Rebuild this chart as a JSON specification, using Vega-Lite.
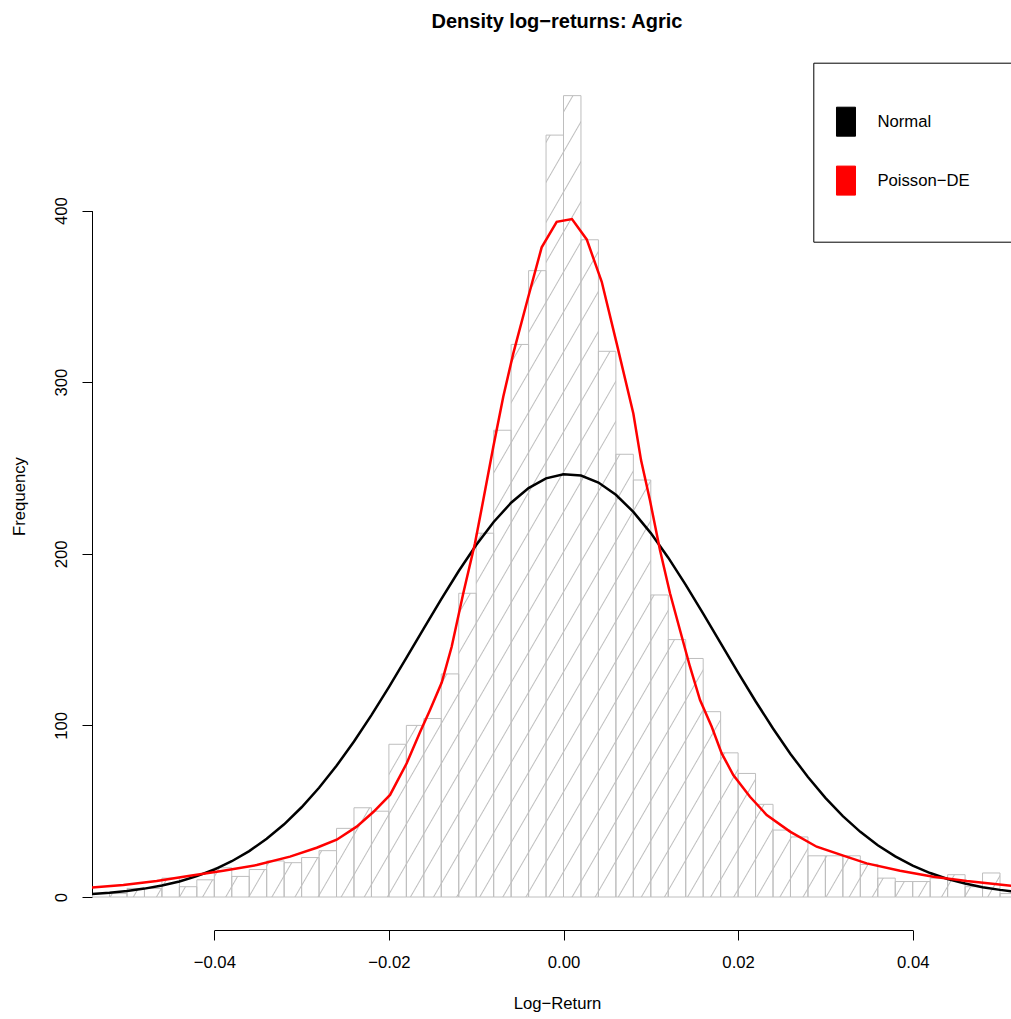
{
  "$schema": "https://vega.github.io/schema/vega-lite/v6.json",
  "width": 919,
  "height": 868,
  "autosize": "none",
  "padding": {"left": 92, "top": 62, "right": 0, "bottom": 89},
  "background": "white",
  "config": {"view": {"stroke": null}, "font": "Liberation Sans"},
  "title": {"text": "Density log−returns: Agric", "fontSize": 20, "fontWeight": "bold", "color": "black", "anchor": "middle", "frame": "group", "baseline": "alphabetic", "offset": 14, "dx": 5.5},
  "datasets": {
    "hist": [
      {"x": -0.056, "x_end": -0.054, "y": 1},
      {"x": -0.054, "x_end": -0.052, "y": 2},
      {"x": -0.052, "x_end": -0.050, "y": 2},
      {"x": -0.050, "x_end": -0.048, "y": 5},
      {"x": -0.048, "x_end": -0.046, "y": 5},
      {"x": -0.046, "x_end": -0.044, "y": 11},
      {"x": -0.044, "x_end": -0.042, "y": 6},
      {"x": -0.042, "x_end": -0.040, "y": 10},
      {"x": -0.040, "x_end": -0.038, "y": 17},
      {"x": -0.038, "x_end": -0.036, "y": 12},
      {"x": -0.036, "x_end": -0.034, "y": 16},
      {"x": -0.034, "x_end": -0.032, "y": 21},
      {"x": -0.032, "x_end": -0.030, "y": 20},
      {"x": -0.030, "x_end": -0.028, "y": 23},
      {"x": -0.028, "x_end": -0.026, "y": 27},
      {"x": -0.026, "x_end": -0.024, "y": 40},
      {"x": -0.024, "x_end": -0.022, "y": 52},
      {"x": -0.022, "x_end": -0.020, "y": 50},
      {"x": -0.020, "x_end": -0.018, "y": 89},
      {"x": -0.018, "x_end": -0.016, "y": 100},
      {"x": -0.016, "x_end": -0.014, "y": 104},
      {"x": -0.014, "x_end": -0.012, "y": 130},
      {"x": -0.012, "x_end": -0.010, "y": 177},
      {"x": -0.010, "x_end": -0.008, "y": 212},
      {"x": -0.008, "x_end": -0.006, "y": 272},
      {"x": -0.006, "x_end": -0.004, "y": 322},
      {"x": -0.004, "x_end": -0.002, "y": 365},
      {"x": -0.002, "x_end": 0.000, "y": 444},
      {"x": 0.000, "x_end": 0.002, "y": 467},
      {"x": 0.002, "x_end": 0.004, "y": 383},
      {"x": 0.004, "x_end": 0.006, "y": 318},
      {"x": 0.006, "x_end": 0.008, "y": 258},
      {"x": 0.008, "x_end": 0.010, "y": 243},
      {"x": 0.010, "x_end": 0.012, "y": 176},
      {"x": 0.012, "x_end": 0.014, "y": 150},
      {"x": 0.014, "x_end": 0.016, "y": 139},
      {"x": 0.016, "x_end": 0.018, "y": 108},
      {"x": 0.018, "x_end": 0.020, "y": 84},
      {"x": 0.020, "x_end": 0.022, "y": 72},
      {"x": 0.022, "x_end": 0.024, "y": 54},
      {"x": 0.024, "x_end": 0.026, "y": 39},
      {"x": 0.026, "x_end": 0.028, "y": 35},
      {"x": 0.028, "x_end": 0.030, "y": 24},
      {"x": 0.030, "x_end": 0.032, "y": 24},
      {"x": 0.032, "x_end": 0.034, "y": 24},
      {"x": 0.034, "x_end": 0.036, "y": 19},
      {"x": 0.036, "x_end": 0.038, "y": 11},
      {"x": 0.038, "x_end": 0.040, "y": 9},
      {"x": 0.040, "x_end": 0.042, "y": 9},
      {"x": 0.042, "x_end": 0.044, "y": 11},
      {"x": 0.044, "x_end": 0.046, "y": 13},
      {"x": 0.046, "x_end": 0.048, "y": 6},
      {"x": 0.048, "x_end": 0.050, "y": 14},
      {"x": 0.050, "x_end": 0.052, "y": 2}
    ],
    "curves": [
      {"x": -0.058, "y": 0.82, "series": "Normal"},
      {"x": -0.056, "y": 1.21, "series": "Normal"},
      {"x": -0.054, "y": 1.74, "series": "Normal"},
      {"x": -0.052, "y": 2.49, "series": "Normal"},
      {"x": -0.050, "y": 3.51, "series": "Normal"},
      {"x": -0.048, "y": 4.89, "series": "Normal"},
      {"x": -0.046, "y": 6.71, "series": "Normal"},
      {"x": -0.044, "y": 9.08, "series": "Normal"},
      {"x": -0.042, "y": 12.14, "series": "Normal"},
      {"x": -0.040, "y": 16.02, "series": "Normal"},
      {"x": -0.038, "y": 20.84, "series": "Normal"},
      {"x": -0.036, "y": 26.76, "series": "Normal"},
      {"x": -0.034, "y": 33.91, "series": "Normal"},
      {"x": -0.032, "y": 42.38, "series": "Normal"},
      {"x": -0.030, "y": 52.29, "series": "Normal"},
      {"x": -0.028, "y": 63.65, "series": "Normal"},
      {"x": -0.026, "y": 76.46, "series": "Normal"},
      {"x": -0.024, "y": 90.64, "series": "Normal"},
      {"x": -0.022, "y": 106.01, "series": "Normal"},
      {"x": -0.020, "y": 122.35, "series": "Normal"},
      {"x": -0.018, "y": 139.34, "series": "Normal"},
      {"x": -0.016, "y": 156.59, "series": "Normal"},
      {"x": -0.014, "y": 173.64, "series": "Normal"},
      {"x": -0.012, "y": 189.98, "series": "Normal"},
      {"x": -0.010, "y": 205.12, "series": "Normal"},
      {"x": -0.008, "y": 218.53, "series": "Normal"},
      {"x": -0.006, "y": 229.74, "series": "Normal"},
      {"x": -0.004, "y": 238.32, "series": "Normal"},
      {"x": -0.002, "y": 243.95, "series": "Normal"},
      {"x": 0.000, "y": 246.40, "series": "Normal"},
      {"x": 0.002, "y": 245.58, "series": "Normal"},
      {"x": 0.004, "y": 241.52, "series": "Normal"},
      {"x": 0.006, "y": 234.38, "series": "Normal"},
      {"x": 0.008, "y": 224.44, "series": "Normal"},
      {"x": 0.010, "y": 212.07, "series": "Normal"},
      {"x": 0.012, "y": 197.74, "series": "Normal"},
      {"x": 0.014, "y": 181.93, "series": "Normal"},
      {"x": 0.016, "y": 165.16, "series": "Normal"},
      {"x": 0.018, "y": 147.96, "series": "Normal"},
      {"x": 0.020, "y": 130.79, "series": "Normal"},
      {"x": 0.022, "y": 114.08, "series": "Normal"},
      {"x": 0.024, "y": 98.19, "series": "Normal"},
      {"x": 0.026, "y": 83.39, "series": "Normal"},
      {"x": 0.028, "y": 69.89, "series": "Normal"},
      {"x": 0.030, "y": 57.79, "series": "Normal"},
      {"x": 0.032, "y": 47.15, "series": "Normal"},
      {"x": 0.034, "y": 37.98, "series": "Normal"},
      {"x": 0.036, "y": 30.17, "series": "Normal"},
      {"x": 0.038, "y": 23.65, "series": "Normal"},
      {"x": 0.040, "y": 18.30, "series": "Normal"},
      {"x": 0.042, "y": 13.97, "series": "Normal"},
      {"x": 0.044, "y": 10.52, "series": "Normal"},
      {"x": 0.046, "y": 7.82, "series": "Normal"},
      {"x": 0.048, "y": 5.74, "series": "Normal"},
      {"x": 0.050, "y": 4.15, "series": "Normal"},
      {"x": 0.052, "y": 2.96, "series": "Normal"},
      {"x": 0.054, "y": 2.09, "series": "Normal"},
      {"x": 0.056, "y": 1.45, "series": "Normal"},
      {"x": -0.058, "y": 4.9, "series": "Poisson−DE"},
      {"x": -0.05424, "y": 5.4, "series": "Poisson−DE"},
      {"x": -0.05042, "y": 7.0, "series": "Poisson−DE"},
      {"x": -0.04660, "y": 9.3, "series": "Poisson−DE"},
      {"x": -0.04278, "y": 12.4, "series": "Poisson−DE"},
      {"x": -0.03897, "y": 15.3, "series": "Poisson−DE"},
      {"x": -0.03514, "y": 18.6, "series": "Poisson−DE"},
      {"x": -0.03133, "y": 23.5, "series": "Poisson−DE"},
      {"x": -0.02827, "y": 28.7, "series": "Poisson−DE"},
      {"x": -0.02598, "y": 33.4, "series": "Poisson−DE"},
      {"x": -0.02369, "y": 41.0, "series": "Poisson−DE"},
      {"x": -0.02179, "y": 49.5, "series": "Poisson−DE"},
      {"x": -0.01987, "y": 59.5, "series": "Poisson−DE"},
      {"x": -0.01796, "y": 77.9, "series": "Poisson−DE"},
      {"x": -0.01644, "y": 96.0, "series": "Poisson−DE"},
      {"x": -0.01529, "y": 109.0, "series": "Poisson−DE"},
      {"x": -0.01395, "y": 125.0, "series": "Poisson−DE"},
      {"x": -0.01281, "y": 145.8, "series": "Poisson−DE"},
      {"x": -0.01148, "y": 177.0, "series": "Poisson−DE"},
      {"x": -0.01014, "y": 206.1, "series": "Poisson−DE"},
      {"x": -0.00919, "y": 231.3, "series": "Poisson−DE"},
      {"x": -0.00804, "y": 262.4, "series": "Poisson−DE"},
      {"x": -0.00690, "y": 291.5, "series": "Poisson−DE"},
      {"x": -0.00575, "y": 316.8, "series": "Poisson−DE"},
      {"x": -0.00403, "y": 349.8, "series": "Poisson−DE"},
      {"x": -0.00250, "y": 378.6, "series": "Poisson−DE"},
      {"x": -0.00078, "y": 393.5, "series": "Poisson−DE"},
      {"x": 0.00097, "y": 395.1, "series": "Poisson−DE"},
      {"x": 0.00266, "y": 383.2, "series": "Poisson−DE"},
      {"x": 0.00438, "y": 358.5, "series": "Poisson−DE"},
      {"x": 0.00609, "y": 322.6, "series": "Poisson−DE"},
      {"x": 0.00800, "y": 281.8, "series": "Poisson−DE"},
      {"x": 0.00888, "y": 254.6, "series": "Poisson−DE"},
      {"x": 0.00991, "y": 231.0, "series": "Poisson−DE"},
      {"x": 0.01105, "y": 202.2, "series": "Poisson−DE"},
      {"x": 0.01220, "y": 177.0, "series": "Poisson−DE"},
      {"x": 0.01334, "y": 155.6, "series": "Poisson−DE"},
      {"x": 0.01449, "y": 134.2, "series": "Poisson−DE"},
      {"x": 0.01564, "y": 114.8, "series": "Poisson−DE"},
      {"x": 0.01698, "y": 99.2, "series": "Poisson−DE"},
      {"x": 0.01812, "y": 83.7, "series": "Poisson−DE"},
      {"x": 0.01945, "y": 71.1, "series": "Poisson−DE"},
      {"x": 0.02136, "y": 58.4, "series": "Poisson−DE"},
      {"x": 0.02328, "y": 47.8, "series": "Poisson−DE"},
      {"x": 0.02595, "y": 38.1, "series": "Poisson−DE"},
      {"x": 0.02900, "y": 29.3, "series": "Poisson−DE"},
      {"x": 0.03205, "y": 24.1, "series": "Poisson−DE"},
      {"x": 0.03473, "y": 19.6, "series": "Poisson−DE"},
      {"x": 0.03855, "y": 15.3, "series": "Poisson−DE"},
      {"x": 0.04236, "y": 11.8, "series": "Poisson−DE"},
      {"x": 0.04619, "y": 9.3, "series": "Poisson−DE"},
      {"x": 0.05126, "y": 6.6, "series": "Poisson−DE"},
      {"x": 0.056, "y": 5.6, "series": "Poisson−DE"}
    ]
  },
  "layer": [
    {
      "data": {"name": "hist"},
      "mark": {
        "type": "area", "interpolate": "step-after", "clip": true, "strokeWidth": 0,
        "fill": {"gradient": "linear", "x1": 0, "y1": 0, "x2": 1.2, "y2": 0.6, "stops": [
          {"offset": 0, "color": "#ffffff"},
          {"offset": 0.00882, "color": "#ffffff"}, {"offset": 0.00965, "color": "#bebebe"}, {"offset": 0.01048, "color": "#ffffff"},
          {"offset": 0.02546, "color": "#ffffff"}, {"offset": 0.02629, "color": "#bebebe"}, {"offset": 0.02712, "color": "#ffffff"},
          {"offset": 0.04209, "color": "#ffffff"}, {"offset": 0.04292, "color": "#bebebe"}, {"offset": 0.04375, "color": "#ffffff"},
          {"offset": 0.05873, "color": "#ffffff"}, {"offset": 0.05956, "color": "#bebebe"}, {"offset": 0.06039, "color": "#ffffff"},
          {"offset": 0.07536, "color": "#ffffff"}, {"offset": 0.07619, "color": "#bebebe"}, {"offset": 0.07702, "color": "#ffffff"},
          {"offset": 0.09200, "color": "#ffffff"}, {"offset": 0.09283, "color": "#bebebe"}, {"offset": 0.09366, "color": "#ffffff"},
          {"offset": 0.10864, "color": "#ffffff"}, {"offset": 0.10947, "color": "#bebebe"}, {"offset": 0.11030, "color": "#ffffff"},
          {"offset": 0.12527, "color": "#ffffff"}, {"offset": 0.12610, "color": "#bebebe"}, {"offset": 0.12693, "color": "#ffffff"},
          {"offset": 0.14191, "color": "#ffffff"}, {"offset": 0.14274, "color": "#bebebe"}, {"offset": 0.14357, "color": "#ffffff"},
          {"offset": 0.15854, "color": "#ffffff"}, {"offset": 0.15937, "color": "#bebebe"}, {"offset": 0.16020, "color": "#ffffff"},
          {"offset": 0.17518, "color": "#ffffff"}, {"offset": 0.17601, "color": "#bebebe"}, {"offset": 0.17684, "color": "#ffffff"},
          {"offset": 0.19182, "color": "#ffffff"}, {"offset": 0.19265, "color": "#bebebe"}, {"offset": 0.19348, "color": "#ffffff"},
          {"offset": 0.20845, "color": "#ffffff"}, {"offset": 0.20928, "color": "#bebebe"}, {"offset": 0.21011, "color": "#ffffff"},
          {"offset": 0.22509, "color": "#ffffff"}, {"offset": 0.22592, "color": "#bebebe"}, {"offset": 0.22675, "color": "#ffffff"},
          {"offset": 0.24172, "color": "#ffffff"}, {"offset": 0.24255, "color": "#bebebe"}, {"offset": 0.24338, "color": "#ffffff"},
          {"offset": 0.25836, "color": "#ffffff"}, {"offset": 0.25919, "color": "#bebebe"}, {"offset": 0.26002, "color": "#ffffff"},
          {"offset": 0.27500, "color": "#ffffff"}, {"offset": 0.27583, "color": "#bebebe"}, {"offset": 0.27666, "color": "#ffffff"},
          {"offset": 0.29163, "color": "#ffffff"}, {"offset": 0.29246, "color": "#bebebe"}, {"offset": 0.29329, "color": "#ffffff"},
          {"offset": 0.30827, "color": "#ffffff"}, {"offset": 0.30910, "color": "#bebebe"}, {"offset": 0.30993, "color": "#ffffff"},
          {"offset": 0.32490, "color": "#ffffff"}, {"offset": 0.32573, "color": "#bebebe"}, {"offset": 0.32656, "color": "#ffffff"},
          {"offset": 0.34154, "color": "#ffffff"}, {"offset": 0.34237, "color": "#bebebe"}, {"offset": 0.34320, "color": "#ffffff"},
          {"offset": 0.35818, "color": "#ffffff"}, {"offset": 0.35901, "color": "#bebebe"}, {"offset": 0.35984, "color": "#ffffff"},
          {"offset": 0.37481, "color": "#ffffff"}, {"offset": 0.37564, "color": "#bebebe"}, {"offset": 0.37647, "color": "#ffffff"},
          {"offset": 0.39145, "color": "#ffffff"}, {"offset": 0.39228, "color": "#bebebe"}, {"offset": 0.39311, "color": "#ffffff"},
          {"offset": 0.40808, "color": "#ffffff"}, {"offset": 0.40891, "color": "#bebebe"}, {"offset": 0.40974, "color": "#ffffff"},
          {"offset": 0.42472, "color": "#ffffff"}, {"offset": 0.42555, "color": "#bebebe"}, {"offset": 0.42638, "color": "#ffffff"},
          {"offset": 0.44136, "color": "#ffffff"}, {"offset": 0.44219, "color": "#bebebe"}, {"offset": 0.44302, "color": "#ffffff"},
          {"offset": 0.45799, "color": "#ffffff"}, {"offset": 0.45882, "color": "#bebebe"}, {"offset": 0.45965, "color": "#ffffff"},
          {"offset": 0.47463, "color": "#ffffff"}, {"offset": 0.47546, "color": "#bebebe"}, {"offset": 0.47629, "color": "#ffffff"},
          {"offset": 0.49126, "color": "#ffffff"}, {"offset": 0.49209, "color": "#bebebe"}, {"offset": 0.49292, "color": "#ffffff"},
          {"offset": 0.50790, "color": "#ffffff"}, {"offset": 0.50873, "color": "#bebebe"}, {"offset": 0.50956, "color": "#ffffff"},
          {"offset": 0.52454, "color": "#ffffff"}, {"offset": 0.52537, "color": "#bebebe"}, {"offset": 0.52620, "color": "#ffffff"},
          {"offset": 0.54117, "color": "#ffffff"}, {"offset": 0.54200, "color": "#bebebe"}, {"offset": 0.54283, "color": "#ffffff"},
          {"offset": 0.55781, "color": "#ffffff"}, {"offset": 0.55864, "color": "#bebebe"}, {"offset": 0.55947, "color": "#ffffff"},
          {"offset": 0.57444, "color": "#ffffff"}, {"offset": 0.57527, "color": "#bebebe"}, {"offset": 0.57610, "color": "#ffffff"},
          {"offset": 0.59108, "color": "#ffffff"}, {"offset": 0.59191, "color": "#bebebe"}, {"offset": 0.59274, "color": "#ffffff"},
          {"offset": 0.60772, "color": "#ffffff"}, {"offset": 0.60855, "color": "#bebebe"}, {"offset": 0.60938, "color": "#ffffff"},
          {"offset": 0.62435, "color": "#ffffff"}, {"offset": 0.62518, "color": "#bebebe"}, {"offset": 0.62601, "color": "#ffffff"},
          {"offset": 0.64099, "color": "#ffffff"}, {"offset": 0.64182, "color": "#bebebe"}, {"offset": 0.64265, "color": "#ffffff"},
          {"offset": 0.65762, "color": "#ffffff"}, {"offset": 0.65845, "color": "#bebebe"}, {"offset": 0.65928, "color": "#ffffff"},
          {"offset": 0.67426, "color": "#ffffff"}, {"offset": 0.67509, "color": "#bebebe"}, {"offset": 0.67592, "color": "#ffffff"},
          {"offset": 0.69090, "color": "#ffffff"}, {"offset": 0.69173, "color": "#bebebe"}, {"offset": 0.69256, "color": "#ffffff"},
          {"offset": 0.70753, "color": "#ffffff"}, {"offset": 0.70836, "color": "#bebebe"}, {"offset": 0.70919, "color": "#ffffff"},
          {"offset": 0.72417, "color": "#ffffff"}, {"offset": 0.72500, "color": "#bebebe"}, {"offset": 0.72583, "color": "#ffffff"},
          {"offset": 0.74080, "color": "#ffffff"}, {"offset": 0.74163, "color": "#bebebe"}, {"offset": 0.74246, "color": "#ffffff"},
          {"offset": 0.75744, "color": "#ffffff"}, {"offset": 0.75827, "color": "#bebebe"}, {"offset": 0.75910, "color": "#ffffff"},
          {"offset": 0.77408, "color": "#ffffff"}, {"offset": 0.77491, "color": "#bebebe"}, {"offset": 0.77574, "color": "#ffffff"},
          {"offset": 0.79071, "color": "#ffffff"}, {"offset": 0.79154, "color": "#bebebe"}, {"offset": 0.79237, "color": "#ffffff"},
          {"offset": 0.80735, "color": "#ffffff"}, {"offset": 0.80818, "color": "#bebebe"}, {"offset": 0.80901, "color": "#ffffff"},
          {"offset": 0.82398, "color": "#ffffff"}, {"offset": 0.82481, "color": "#bebebe"}, {"offset": 0.82564, "color": "#ffffff"},
          {"offset": 0.84062, "color": "#ffffff"}, {"offset": 0.84145, "color": "#bebebe"}, {"offset": 0.84228, "color": "#ffffff"},
          {"offset": 0.85726, "color": "#ffffff"}, {"offset": 0.85809, "color": "#bebebe"}, {"offset": 0.85892, "color": "#ffffff"},
          {"offset": 0.87389, "color": "#ffffff"}, {"offset": 0.87472, "color": "#bebebe"}, {"offset": 0.87555, "color": "#ffffff"},
          {"offset": 0.89053, "color": "#ffffff"}, {"offset": 0.89136, "color": "#bebebe"}, {"offset": 0.89219, "color": "#ffffff"},
          {"offset": 0.90716, "color": "#ffffff"}, {"offset": 0.90799, "color": "#bebebe"}, {"offset": 0.90882, "color": "#ffffff"},
          {"offset": 0.92380, "color": "#ffffff"}, {"offset": 0.92463, "color": "#bebebe"}, {"offset": 0.92546, "color": "#ffffff"},
          {"offset": 0.94044, "color": "#ffffff"}, {"offset": 0.94127, "color": "#bebebe"}, {"offset": 0.94210, "color": "#ffffff"},
          {"offset": 0.95707, "color": "#ffffff"}, {"offset": 0.95790, "color": "#bebebe"}, {"offset": 0.95873, "color": "#ffffff"},
          {"offset": 0.97371, "color": "#ffffff"}, {"offset": 0.97454, "color": "#bebebe"}, {"offset": 0.97537, "color": "#ffffff"},
          {"offset": 0.99034, "color": "#ffffff"}, {"offset": 0.99117, "color": "#bebebe"}, {"offset": 0.99200, "color": "#ffffff"},
          {"offset": 1, "color": "#ffffff"}
        ]}
      },
      "encoding": {
        "x": {"field": "x", "type": "quantitative",
          "scale": {"domain": [-0.04, 0.04], "range": [122.3, 820.7], "nice": false, "zero": false},
          "axis": {"values": [-0.04, -0.02, 0, 0.02, 0.04], "format": ".2f", "grid": false, "domainColor": "black", "domainWidth": 1, "tickColor": "black", "tickWidth": 1, "tickSize": 10, "labelFontSize": 16.7, "labelColor": "black", "labelBaseline": "alphabetic", "labelPadding": 27.3, "labelFlush": false, "labelOverlap": false, "title": "Log−Return", "titleFontSize": 16.7, "titleFontWeight": "normal", "titleColor": "black", "titleX": 465, "titleY": 78, "titleBaseline": "alphabetic", "titleAlign": "center"}},
        "y": {"field": "y", "type": "quantitative", "stack": null,
          "scale": {"domain": [0, 400], "range": [835, 148.6], "nice": false, "zero": false},
          "axis": {"values": [0, 100, 200, 300, 400], "format": "d", "grid": false, "domainColor": "black", "domainWidth": 1, "tickColor": "black", "tickWidth": 1, "tickSize": 10, "labelFontSize": 16.7, "labelColor": "black", "labelAngle": 270, "labelAlign": "center", "labelBaseline": "alphabetic", "labelPadding": 15.3, "labelOverlap": false, "title": "Frequency", "titleFontSize": 16.7, "titleFontWeight": "normal", "titleColor": "black", "titleAngle": 270, "titleBaseline": "alphabetic", "titleAlign": "center", "titleX": -68, "titleY": 434}},
        "y2": {"datum": 0}
      }
    },
    {
      "data": {"name": "hist"},
      "mark": {"type": "bar", "clip": true, "fill": "transparent", "stroke": "#bebebe", "strokeWidth": 1},
      "encoding": {
        "x": {"field": "x", "type": "quantitative"},
        "x2": {"field": "x_end"},
        "y": {"field": "y", "type": "quantitative"},
        "y2": {"datum": 0}
      }
    },
    {
      "data": {"name": "curves"},
      "transform": [{"filter": "datum.series === 'Normal'"}],
      "mark": {"type": "line", "clip": true, "strokeWidth": 2.5},
      "encoding": {
        "x": {"field": "x", "type": "quantitative"},
        "y": {"field": "y", "type": "quantitative"},
        "color": {"field": "series", "type": "nominal",
          "scale": {"domain": ["Normal", "Poisson−DE"], "range": ["black", "red"]},
          "legend": {"orient": "none", "legendX": 721.3, "legendY": 0.7, "direction": "vertical", "title": null, "padding": 44, "strokeColor": "black", "fillColor": "white", "symbolType": "M-2.469,-1L-1.159,-1L-1.159,1L-2.469,1Z", "symbolSize": 841, "rowPadding": 24.9, "labelOffset": -9.9, "labelFontSize": 16.7, "labelColor": "black", "symbolStrokeWidth": 1,
            "encode": {"symbols": {"update": {"fill": {"scale": "color", "field": "value"}, "stroke": {"value": "black"}, "strokeWidth": {"value": 1}, "opacity": {"value": 1}}}}}}
      }
    },
    {
      "data": {"name": "curves"},
      "transform": [{"filter": "datum.series !== 'Normal'"}],
      "mark": {"type": "line", "clip": true, "strokeWidth": 2.5},
      "encoding": {
        "x": {"field": "x", "type": "quantitative"},
        "y": {"field": "y", "type": "quantitative"},
        "color": {"field": "series", "type": "nominal"}
      }
    }
  ]
}
